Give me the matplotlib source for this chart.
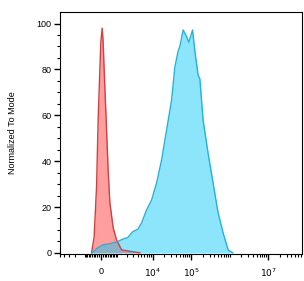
import numpy as np
import matplotlib
matplotlib.use("Agg")
import matplotlib.pyplot as plt
from matplotlib.ticker import FixedLocator, FixedFormatter

# Datos (intensidad de fluorescencia, % del modo)
rojo_x = [-527, -371, -234, -146, -54, 0, 70, 124, 178, 290, 406, 508, 724, 976, 1427, 2470, 4600]
rojo_y = [0, 7, 29, 58, 80, 92, 98, 92, 80, 58, 36, 22, 11, 5.6, 1.3, 0.7, 0]

azul_x = [-508, -217, 108, 508, 1087, 1558, 2160, 2990, 4060, 5090, 6890, 9310, 12570,
          16960, 22900, 30900, 37600, 45800, 50700, 61800, 72600, 86900, 108500, 124400,
          151600, 167700, 204000, 275000, 371000, 501000, 676000, 912000, 1208000]
azul_y = [0, 2, 3.5, 4, 5, 6, 6.7, 9.3, 10.3, 13, 18.7, 23, 30.4,
          40.4, 53.5, 66.5, 81, 88, 90, 97.2, 95, 91.9, 97.2, 88,
          77.4, 76, 57.8, 43.4, 30.4, 17.4, 8.7, 1.3, 0]

etiquetas_x = ["0", "$10^4$", "$10^5$", "$10^7$"]
ticks_x = [0, 1e4, 1e5, 1e7]

# Escala biexponencial aproximada (arcsinh)
W = 900.0
def fwd(x):
    return np.arcsinh(np.asarray(x) / W) / np.log(10)

def inv(y):
    return W * np.sinh(np.asarray(y) * np.log(10))

plt.rcParams['font.family'] = ['Liberation Sans', 'DejaVu Sans']

fig = plt.figure(figsize=(3.04, 2.81), dpi=100)
ax = fig.add_axes([0.197, 0.096, 0.796, 0.861])
ax.set_xscale('function', functions=(fwd, inv))

ax.fill_between(rojo_x, rojo_y, 0, color=(1.0, 0.62, 0.62), lw=0, zorder=2)
ax.fill_between(azul_x, azul_y, 0, color=(0.0, 0.78, 0.96), alpha=0.45, lw=0, zorder=3)
ax.plot(rojo_x, rojo_y, color=(0.82, 0.25, 0.25), lw=1.0, zorder=4)
ax.plot(azul_x, azul_y, color=(0.12, 0.70, 0.88), lw=1.0, zorder=5)

ax.set_xlim(-5180, 7.5e7)
ax.set_ylim(-0.5, 105)

# Ticks del eje x
menores = []
for n in range(2, 8):
    for k in range(1, 10):
        v = k * 10 ** n
        if v not in ticks_x:
            menores.append(v)
for k in range(1, 10):
    menores.append(-k * 100)
for k in range(1, 6):
    menores.append(-k * 1000)
ax.xaxis.set_major_locator(FixedLocator(ticks_x))
ax.xaxis.set_major_formatter(FixedFormatter(etiquetas_x))
ax.xaxis.set_minor_locator(FixedLocator(menores))

ax.set_yticks([0, 20, 40, 60, 80, 100])
ax.set_yticks(np.arange(0, 105, 5), minor=True)

ax.tick_params(axis='both', which='major', direction='out', length=4, width=1, labelsize=6.5, pad=2)
ax.tick_params(axis='both', which='minor', direction='out', length=2.5, width=0.8)
ax.tick_params(axis='x', which='major', pad=5)

for s in ax.spines.values():
    s.set_linewidth(0.8)

ax.set_ylabel('Normalized To Mode', fontsize=6.5, labelpad=14)

plt.savefig('out.png', dpi=100)
